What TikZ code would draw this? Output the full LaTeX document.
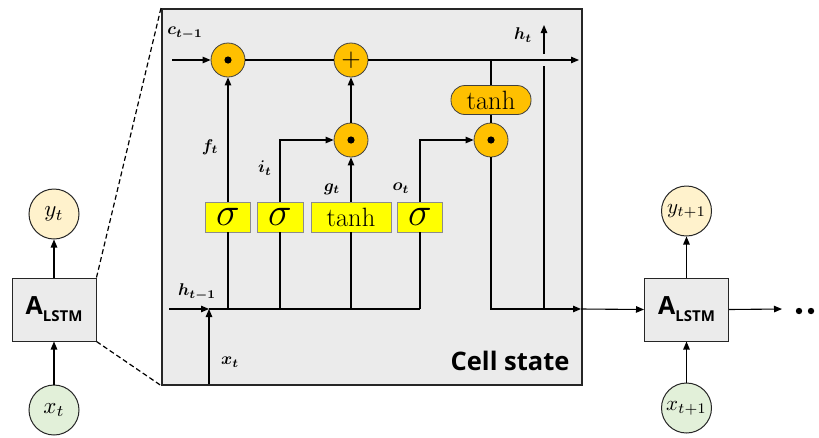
\documentclass[tikz,border=0pt]{standalone}
\usepackage{amsmath}
\usepackage{bm}
\usepackage{graphicx}
\usepackage{fontspec}
\setsansfont{Open Sans}
\usetikzlibrary{arrows.meta}
\definecolor{cellgray}{HTML}{EBEBEB}
\definecolor{gateorange}{HTML}{FFC000}
\definecolor{gateyellow}{HTML}{FFFF00}
\definecolor{ycol}{HTML}{FFF2CC}
\definecolor{xcol}{HTML}{E2F0D9}
\newcommand{\lb}[1]{\scalebox{1.7}{$\bm{#1}$}}
\newcommand{\io}[1]{\scalebox{2.3}{$#1$}}
\begin{document}
\begin{tikzpicture}[x=1pt,y=-1pt,line width=1.1pt,
  >={Triangle[length=8pt,width=6.5pt]},
  opnode/.style={circle,draw=black!75,fill=gateorange,minimum size=34pt,inner sep=0pt,line width=0.8pt},
  gatebox/.style={draw=black!45,fill=gateyellow,minimum height=30pt,inner sep=0pt,line width=0.8pt,font=\fontsize{26.5}{28}\selectfont},
  lbl/.style={inner sep=0pt},
  ionode/.style={circle,draw=black!85,minimum size=50pt,inner sep=0pt,line width=1pt},
  abox/.style={draw=black!85,fill=cellgray,minimum width=84pt,minimum height=63pt,inner sep=0pt,line width=1pt},
  atext/.style={font=\sffamily\bfseries\fontsize{25}{27}\selectfont}
]
\useasboundingbox (0,0) rectangle (819,437);

% cell box
\node[draw=black!85,fill=cellgray,line width=1.5pt,minimum width=420pt,minimum height=376pt,anchor=north west,inner sep=0pt] (cell) at (161,8) {};
\node[font=\sffamily\bfseries\fontsize{25.5}{27}\selectfont,anchor=east,inner sep=0pt] (cs) at (570,361) {Cell state};

% operator nodes
\node[opnode] (m1) at (228,60) {};
\node[opnode] (plus) at (351,60) {};
\node[opnode] (m2) at (351,140) {};
\node[opnode] (m3) at (491,140) {};
\node[draw=black!75,fill=gateorange,rounded corners=14pt,minimum width=80pt,minimum height=29pt,inner sep=0pt,line width=0.8pt,font=\fontsize{26.5}{28}\selectfont] (tc) at (491,100) {tanh};
\fill (m1) circle (3.6pt);
\fill (m2) circle (3.6pt);
\fill (m3) circle (3.6pt);
\node[inner sep=0pt] at (plus) {\scalebox{2.5}{$+$}};

% gates
\node[gatebox,minimum width=45pt] (s1) at (228,217) {\scalebox{1.6}{$\sigma$}};
\node[gatebox,minimum width=46pt] (s2) at (280,217) {\scalebox{1.6}{$\sigma$}};
\node[gatebox,minimum width=80pt] (gg) at (351,217) {tanh};
\node[gatebox,minimum width=45pt] (s3) at (420,217) {\scalebox{1.6}{$\sigma$}};

% coordinates
\coordinate (cin) at (172,60);
\coordinate (cout) at (579,60);
\coordinate (hin) at (169,309);
\coordinate (hx) at (209,309);
\coordinate (hend) at (420,309);
\coordinate (xin) at (209,384);
\coordinate (hedge) at (581,309);
\coordinate (hj) at (544,309);
\coordinate (hgapb) at (544,66);
\coordinate (hgapt) at (544,54);
\coordinate (htop) at (544,25);

% cell line
\draw[->] (cin) -- (m1.west);
\draw (m1.east) -- (plus.west);
\draw[->] (plus.east) -- (cout);
\draw (tc.north) -- (tc.north |- cout);
\draw (tc.south) -- (m3.north);

% hidden line
\draw[->] (hin) -- (hx);
\draw[->] (xin) -- (hx);
\draw (hx) -- (hend);
\draw (s1.south) -- (s1.south |- hin);
\draw (s2.south) -- (s2.south |- hin);
\draw (gg.south) -- (gg.south |- hin);
\draw (s3.south) -- (s3.south |- hin);

% gate outputs
\draw[->] (s1.north) -- (m1.south);
\draw[->] (s2.north) |- (m2.west);
\draw[->] (gg.north) -- (m2.south);
\draw[->] (m2.north) -- (plus.south);
\draw[->] (s3.north) |- (m3.west);

% output
\draw[->] (m3.south) |- (hedge);
\draw (hj) -- (hgapb);
\draw[->] (hgapt) -- (htop);

% labels
\node[lbl] (lc) at (185,33) {\lb{c_{t-1}}};
\node[lbl] (lh) at (523,35) {\lb{h_t}};
\node[lbl] (lf) at (210,147) {\lb{f_t}};
\node[lbl] (li) at (265,168) {\lb{i_t}};
\node[lbl] (lg) at (332,189) {\lb{g_t}};
\node[lbl] (lo) at (401,188) {\lb{o_t}};
\node[lbl] (lhp) at (197,292) {\lb{h_{t-1}}};
\node[lbl] (lx) at (230,362) {\lb{x_t}};

% left unit
\node[abox] (A1) at (54,309.5) {};
\node[atext,inner sep=0pt] at (A1) {A\raisebox{-0.28em}{\fontsize{15}{16}\selectfont LSTM}};
\node[ionode,fill=ycol] (y1) at (54,214) {\io{y_t}};
\node[ionode,fill=xcol] (x1) at (54,410) {\io{x_t}};
\draw[->] (x1.north) -- (A1.south);
\draw[->] (A1.north) -- (y1.south);
\draw[dashed,dash pattern=on 5pt off 3pt,line width=1.2pt] (A1.north east) -- (cell.north west);
\draw[dashed,dash pattern=on 5pt off 3pt,line width=1.2pt] (A1.south east) -- (cell.south west);

% right unit
\node[abox] (A2) at (686.5,309.5) {};
\node[atext,inner sep=0pt] at (A2) {A\raisebox{-0.28em}{\fontsize{15}{16}\selectfont LSTM}};
\node[ionode,fill=ycol] (y2) at (686.5,211) {\scalebox{2.1}{$y_{t+1}$}};
\node[ionode,fill=xcol] (x2) at (686.5,408) {\scalebox{2.1}{$x_{t+1}$}};
\draw[->] (x2.north) -- (A2.south);
\draw[->] (A2.north) -- (y2.south);
\draw[->] (hedge) -- (A2.west);
\coordinate (aout) at (782,309);
\draw[->] (A2.east) -- (aout);
\fill (799,311) circle (3.2pt);
\fill (811,311) circle (3.2pt);
\end{tikzpicture}
\end{document}
